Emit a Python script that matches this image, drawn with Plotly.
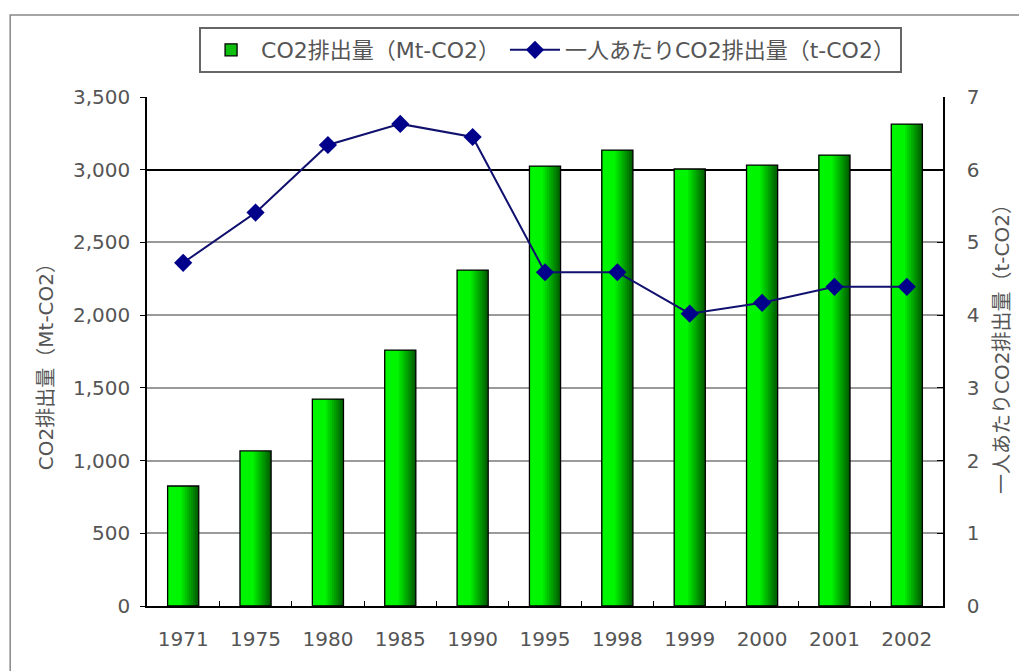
import plotly.graph_objects as go

years = ["1971", "1975", "1980", "1985", "1990", "1995", "1998", "1999", "2000", "2001", "2002"]
co2_total = [825, 1066, 1423, 1760, 2310, 3025, 3135, 3005, 3032, 3101, 3314]
co2_per_capita = [4.72, 5.41, 6.34, 6.63, 6.45, 4.59, 4.59, 4.02, 4.17, 4.39, 4.39]
left_ticks = [0, 500, 1000, 1500, 2000, 2500, 3000, 3500]
right_ticks = [0, 1, 2, 3, 4, 5, 6, 7]
emphasis_grid = [3000]

FONT = "DejaVu Sans, Noto Sans CJK JP"
TXT = "#555555"
BAR_W = 0.43
N_LAYERS = 10
DARK = (0, 95, 0)
LIGHT = (0, 245, 0)

fig = go.Figure()

# gradient bars: stacked overlay layers, widest (darkest) first
for k in range(N_LAYERS):
    t = k / (N_LAYERS - 1)
    r = int(DARK[0] + (LIGHT[0] - DARK[0]) * t)
    g = int(DARK[1] + (LIGHT[1] - DARK[1]) * t)
    b = int(DARK[2] + (LIGHT[2] - DARK[2]) * t)
    w = BAR_W * (1 - 0.62 * k / N_LAYERS)
    fig.add_trace(go.Bar(
        x=years, y=co2_total, width=w, offset=-BAR_W / 2,
        marker=dict(color=f"rgb({r},{g},{b})", line=dict(width=0)),
        showlegend=False, hoverinfo="skip", yaxis="y",
    ))
# outline
fig.add_trace(go.Bar(
    x=years, y=co2_total, width=BAR_W, offset=-BAR_W / 2, name="CO2排出量（Mt-CO2）",
    marker=dict(color="rgba(0,0,0,0)", line=dict(color="#000000", width=1.3)),
    showlegend=False, yaxis="y",
))
# legend entry for bars
fig.add_trace(go.Bar(
    x=[years[0]], y=[None], name="CO2排出量（Mt-CO2）",
    marker=dict(color="#10C010", line=dict(color="#000000", width=1.3)),
    showlegend=True, yaxis="y",
))
fig.add_trace(go.Scatter(
    x=years, y=co2_per_capita, name="一人あたりCO2排出量（t-CO2）",
    mode="lines+markers",
    line=dict(color="#10106E", width=2),
    marker=dict(symbol="diamond", size=14, color="#00008B"),
    yaxis="y2",
))
# invisible trace carrying the emphasised gridline axis
fig.add_trace(go.Scatter(x=years, y=co2_total, yaxis="y3", mode="lines",
                         line=dict(width=0), showlegend=False, hoverinfo="skip"))

fig.update_layout(
    width=1019, height=671,
    margin=dict(l=147, r=76, t=97, b=65),
    paper_bgcolor="white", plot_bgcolor="white",
    font=dict(family=FONT, size=20, color=TXT),
    barmode="overlay",
    showlegend=True,
    legend=dict(orientation="h", x=0.507, xanchor="center", y=1.1375, yanchor="top",
                bordercolor="#666666", borderwidth=2, bgcolor="white",
                font=dict(size=22, color=TXT), traceorder="normal",
                itemwidth=50, tracegroupgap=0),
    xaxis=dict(
        type="category", range=[-0.5, len(years) - 0.5],
        showline=True, linecolor="#000000", linewidth=1.5,
        ticks="inside", tickson="boundaries", ticklen=5, tickcolor="#000000",
        tickfont=dict(size=20, color=TXT), showgrid=False, automargin=False,
        ticklabelstandoff=14,
    ),
    yaxis=dict(
        range=[0, 3500], tickvals=left_ticks, tickformat=",",
        showline=True, linecolor="#000000", linewidth=1.5,
        showgrid=True, gridcolor="#9A9A9A", gridwidth=1.5,
        ticks="outside", ticklen=5, tickcolor="#000000",
        tickfont=dict(size=20, color=TXT), automargin=False,
        ticklabelstandoff=6, zeroline=False,
    ),
    yaxis2=dict(
        range=[0, 7], tickvals=right_ticks, overlaying="y", side="right",
        showline=True, linecolor="#000000", linewidth=1.5,
        showgrid=False, ticks="inside", ticklen=6, tickcolor="#000000",
        tickfont=dict(size=20, color=TXT), automargin=False,
        ticklabelstandoff=18, zeroline=False,
    ),
    yaxis3=dict(
        range=[0, 3500], tickvals=emphasis_grid, overlaying="y", showticklabels=False,
        showgrid=True, gridcolor="#000000", gridwidth=2, showline=False, ticks="",
        zeroline=False, automargin=False,
    ),
    annotations=[
        dict(text="CO2排出量（Mt-CO2）", xref="paper", yref="paper",
             x=(46 - 147) / 797, y=(606 - 362) / 509, textangle=-90,
             showarrow=False, font=dict(size=20, color=TXT),
             xanchor="center", yanchor="middle"),
        dict(text="一人あたりCO2排出量（t-CO2）", xref="paper", yref="paper",
             x=(1003 - 147) / 797, y=(606 - 344) / 509, textangle=-90,
             showarrow=False, font=dict(size=20, color=TXT),
             xanchor="center", yanchor="middle"),
    ],
    shapes=[dict(type="rect", xref="paper", yref="paper",
                 x0=(10 - 147) / 797, x1=1.3, y0=-0.3, y1=(606 - 15) / 509,
                 line=dict(color="#888888", width=1.5), fillcolor="rgba(0,0,0,0)",
                 layer="below")],
)

fig.write_html("out.html")
